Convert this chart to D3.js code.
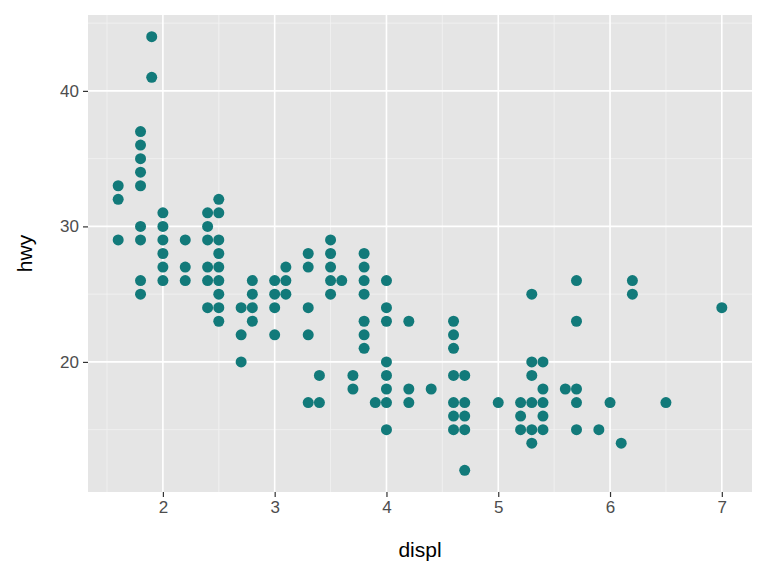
<!DOCTYPE html>
<html>
<head>
<meta charset="utf-8">
<script src="https://cdn.jsdelivr.net/npm/d3@7"></script>
<style>
  body { margin: 0; background: #fff; }
  text { font-family: "Liberation Sans", Arial, sans-serif; }
</style>
</head>
<body>
<svg id="chart" width="768" height="576"></svg>
<script>
// points (displ, hwy)
const displ = [
  1.6,1.6,1.6,
  1.8,1.8,1.8,1.8,1.8,1.8,1.8,1.8,1.8,
  1.9,1.9,
  2.0,2.0,2.0,2.0,2.0,2.0,
  2.2,2.2,2.2,
  2.4,2.4,2.4,2.4,2.4,2.4,
  2.5,2.5,2.5,2.5,2.5,2.5,2.5,2.5,2.5,
  2.7,2.7,2.7,
  2.8,2.8,2.8,2.8,
  3.0,3.0,3.0,3.0,
  3.1,3.1,3.1,
  3.3,3.3,3.3,3.3,3.3,
  3.4,3.4,
  3.5,3.5,3.5,3.5,3.5,
  3.6,
  3.7,3.7,
  3.8,3.8,3.8,3.8,3.8,3.8,3.8,
  3.9,
  4.0,4.0,4.0,4.0,4.0,4.0,4.0,4.0,
  4.2,4.2,4.2,
  4.4,
  4.6,4.6,4.6,4.6,4.6,4.6,4.6,
  4.7,4.7,4.7,4.7,4.7,
  5.0,
  5.2,5.2,5.2,
  5.3,5.3,5.3,5.3,5.3,5.3,
  5.4,5.4,5.4,5.4,5.4,
  5.6,
  5.7,5.7,5.7,5.7,5.7,
  5.9,
  6.0,
  6.1,
  6.2,6.2,
  6.5,
  7.0
];
const hwy = [
  33,32,29,
  37,36,35,34,33,30,29,26,25,
  44,41,
  31,30,29,28,27,26,
  29,27,26,
  31,30,29,27,26,24,
  32,31,29,28,27,26,25,24,23,
  24,22,20,
  26,25,24,23,
  26,25,24,22,
  27,26,25,
  28,27,24,22,17,
  19,17,
  29,28,27,26,25,
  26,
  19,18,
  28,27,26,25,23,22,21,
  17,
  26,24,23,20,19,18,17,15,
  23,18,17,
  18,
  23,22,21,19,17,16,15,
  19,17,16,15,12,
  17,
  17,16,15,
  25,20,19,17,15,14,
  20,18,17,16,15,
  18,
  26,23,18,17,15,
  15,
  17,
  14,
  26,25,
  17,
  24
];
const xTicks = [2, 3, 4, 5, 6, 7];
const xMinor = [1.5, 2.5, 3.5, 4.5, 5.5, 6.5];
const yTicks = [20, 30, 40];
const yMinor = [15, 25, 35, 45];

const margin = { top: 15, right: 16, bottom: 84, left: 88 };
const width = 768 - margin.left - margin.right;
const height = 576 - margin.top - margin.bottom;

const svg = d3.select("#chart");
const g = svg.append("g").attr("transform", `translate(${margin.left},${margin.top})`);

const x = d3.scaleLinear().domain([1.33, 7.27]).range([0, width]);
const y = d3.scaleLinear().domain([10.4, 45.6]).range([height, 0]);

g.append("rect").attr("width", width).attr("height", height).attr("fill", "#e5e5e5");

g.selectAll(".xminor").data(xMinor).enter().append("line")
  .attr("x1", d => x(d)).attr("x2", d => x(d)).attr("y1", 0).attr("y2", height)
  .attr("stroke", "#f2f2f2").attr("stroke-width", 0.8);
g.selectAll(".yminor").data(yMinor).enter().append("line")
  .attr("y1", d => y(d)).attr("y2", d => y(d)).attr("x1", 0).attr("x2", width)
  .attr("stroke", "#f2f2f2").attr("stroke-width", 0.8);
g.selectAll(".xmajor").data(xTicks).enter().append("line")
  .attr("x1", d => x(d)).attr("x2", d => x(d)).attr("y1", 0).attr("y2", height)
  .attr("stroke", "#fff").attr("stroke-width", 1.6);
g.selectAll(".ymajor").data(yTicks).enter().append("line")
  .attr("y1", d => y(d)).attr("y2", d => y(d)).attr("x1", 0).attr("x2", width)
  .attr("stroke", "#fff").attr("stroke-width", 1.6);

g.selectAll("circle").data(displ).enter().append("circle")
  .attr("cx", d => x(d))
  .attr("cy", (d, i) => y(hwy[i]))
  .attr("r", 5.5)
  .attr("fill", "#127a7a");

const xAxis = g.append("g").attr("transform", `translate(0,${height})`)
  .call(d3.axisBottom(x).tickValues(xTicks).tickSize(5).tickPadding(4).tickFormat(d3.format("d")));
const yAxis = g.append("g")
  .call(d3.axisLeft(y).tickValues(yTicks).tickSize(5).tickPadding(4));
[xAxis, yAxis].forEach(a => {
  a.select(".domain").remove();
  a.selectAll("line").attr("stroke", "#333").attr("stroke-width", 1.2);
  a.selectAll("text").attr("fill", "#4d4d4d").style("font-size", "17px");
});

svg.append("text")
  .attr("x", margin.left + width / 2).attr("y", 557)
  .attr("text-anchor", "middle").style("font-size", "21px").attr("fill", "#000")
  .text("displ");
svg.append("text")
  .attr("transform", `translate(32,${margin.top + height / 2}) rotate(-90)`)
  .attr("text-anchor", "middle").style("font-size", "21px").attr("fill", "#000")
  .text("hwy");
</script>
</body>
</html>
